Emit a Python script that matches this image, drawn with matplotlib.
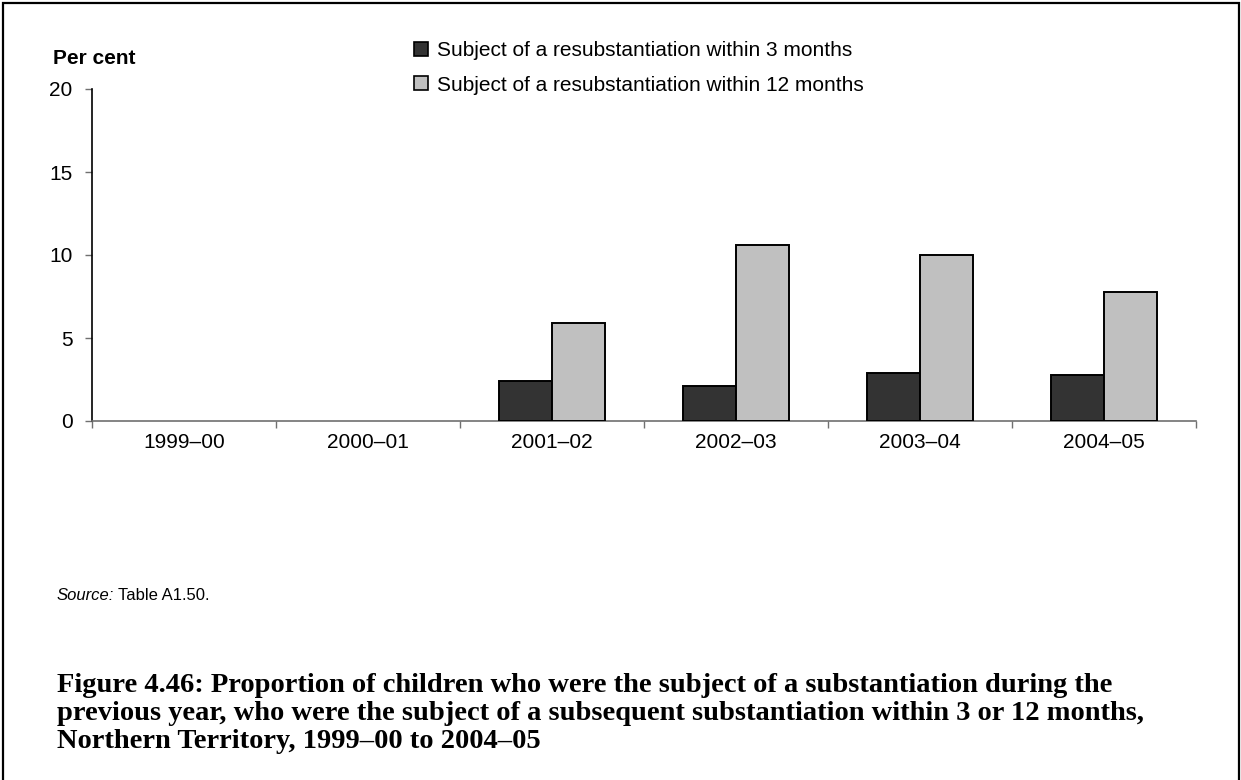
import numpy as np
import matplotlib
matplotlib.use("Agg")
import matplotlib.pyplot as plt
from matplotlib.patches import Rectangle
from matplotlib.lines import Line2D

# Data
years = ["1999–00", "2000–01", "2001–02", "2002–03", "2003–04", "2004–05"]
within_3_months = [np.nan, np.nan, 2.4, 2.1, 2.9, 2.8]
within_12_months = [np.nan, np.nan, 5.9, 10.6, 10.0, 7.8]
series_labels = [
    "Subject of a resubstantiation within 3 months",
    "Subject of a resubstantiation within 12 months",
]
y_ticks = [0, 5, 10, 15, 20]
caption_lines = [
    "Figure 4.46: Proportion of children who were the subject of a substantiation during the",
    "previous year, who were the subject of a subsequent substantiation within 3 or 12 months,",
    "Northern Territory, 1999–00 to 2004–05",
]

plt.rcParams["font.family"] = ["Liberation Sans", "DejaVu Sans"]

W, H = 1241, 780
fig = plt.figure(figsize=(W / 100, H / 100), dpi=100)
fig.patch.set_facecolor("white")
renderer = fig.canvas.get_renderer()

def fx(px):
    return px / W

def fy(py):
    return 1 - py / H

# Plot area
ax = fig.add_axes([fx(92), fy(421), fx(1196 - 92), (421 - 89) / H])
x = np.arange(len(years)) + 0.5
bw = 0.29
dark, light = "#333333", "#c0c0c0"
ax.bar(x - bw / 2, within_3_months, bw, color=dark, edgecolor="black", linewidth=1.4, zorder=3)
ax.bar(x + bw / 2, within_12_months, bw, color=light, edgecolor="black", linewidth=1.4, zorder=3)

ax.set_xlim(0, len(years))
ax.set_ylim(0, 20)
ax.set_yticks(y_ticks)
ax.set_xticks(np.arange(len(years) + 1))
ax.set_xticklabels([])
ax.set_xticks(x, minor=True)
ax.set_xticklabels(years, minor=True)
ax.tick_params(axis="x", which="minor", length=0, pad=9, labelsize=15)
ax.tick_params(axis="x", which="major", length=5, width=1, color="#707070", direction="out")
ax.tick_params(axis="y", length=5, width=1, color="#707070", direction="out", labelsize=15, pad=9)
for s in ("top", "right"):
    ax.spines[s].set_visible(False)
ax.spines["left"].set_color("black")
ax.spines["left"].set_linewidth(1.2)
ax.spines["bottom"].set_color("#707070")
ax.spines["bottom"].set_linewidth(1.2)
ax.set_facecolor("none")

# Axis title
fig.text(fx(53), fy(59), "Per cent", fontsize=15, fontweight="bold", va="center", ha="left")

# Legend
handles = [
    Line2D([], [], linestyle="none", marker="s", markersize=9.5, markerfacecolor=c,
           markeredgecolor="black", markeredgewidth=1.2)
    for c in (dark, light)
]
fig.legend(handles, series_labels, loc="upper left", bbox_to_anchor=(fx(413), fy(41)),
           frameon=False, fontsize=15, handlelength=0.75, handletextpad=0.4,
           labelspacing=0.75, borderaxespad=0, borderpad=0)

# Source note
t_src = fig.text(fx(57), fy(595), "Source:", fontsize=12, fontstyle="italic", va="center", ha="left")
bb = t_src.get_window_extent(renderer=renderer)
fig.text(bb.x1 / W + fx(4), fy(595), "Table A1.50.", fontsize=12, va="center", ha="left")

# Caption, sized so the longest line spans the text block width
cap_family = ["Liberation Serif", "DejaVu Serif"]
probe = fig.text(0, 0, caption_lines[1], fontsize=10, fontweight="bold", family=cap_family)
probe_w = probe.get_window_extent(renderer=renderer).width
probe.remove()
cap_size = 10 * (1145 - 57) / probe_w
for i, line in enumerate(caption_lines):
    fig.text(fx(57), fy(686 + i * 28), line, fontsize=cap_size, fontweight="bold",
             family=cap_family, va="center", ha="left")

# Page frame (open at the bottom)
fig.patches.append(Rectangle((fx(3), -0.02), fx(1236), fy(3) + 0.02, transform=fig.transFigure,
                             fill=False, edgecolor="black", linewidth=1.6))

fig.savefig("out.png", dpi=100)
